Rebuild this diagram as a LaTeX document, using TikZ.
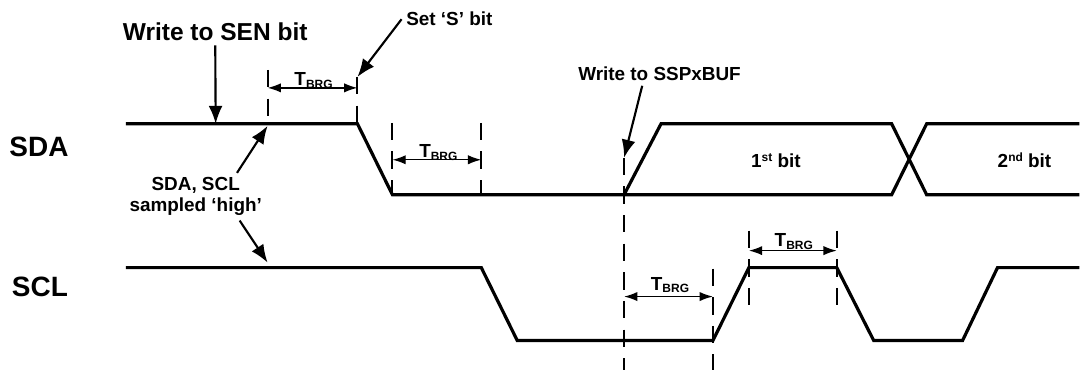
\documentclass[tikz,border=0pt]{standalone}
\usepackage{fontspec}
\setmainfont{Liberation Sans}
\usepackage{tikz}
\usetikzlibrary{arrows.meta}

\newcommand{\tbrg}{T\raisebox{-1.8pt}{\fontsize{9}{10}\selectfont BRG}}
\newcommand{\ordsup}[1]{\raisebox{5pt}{\fontsize{9}{10}\selectfont #1}}

\begin{document}
\begin{tikzpicture}[
    x=0.75pt, y=-0.75pt,
    wave/.style={line width=2.4pt, line join=miter},
    guide/.style={line width=1.5pt, dash pattern=on 13pt off 8.5pt},
    note/.style={font=\bfseries\fontsize{14.2}{15.8}\selectfont, align=center},
    title/.style={font=\bfseries\fontsize{18.4}{20}\selectfont, anchor=base},
    signame/.style={font=\bfseries\fontsize{21}{24}\selectfont, anchor=base},
    pointer/.style={-{Latex[length=13.5pt, width=10.5pt]}, line width=1.6pt},
    tbrgarrow/.style={{Latex[length=10pt, width=7pt]}-{Latex[length=10pt, width=7pt]}, line width=1.1pt},
    tlabel/.style={font=\bfseries\fontsize{14.2}{16}\selectfont, anchor=base, inner sep=0pt}
]
\fill[white] (0,0) rectangle (1081,371);

\node[signame] (sda) at (39,157) {SDA};
\node[signame] (scl) at (40,297) {SCL};

% SDA
\draw[wave] (126,124) -- (358,124) -- (393,195) -- (893,195) -- (928,124) -- (1081,124);
\draw[wave] (625,195) -- (662,124) -- (893,124) -- (928,195) -- (1081,195);
\node[note, anchor=base] (bit1) at (777,168) {1\ordsup{st} bit};
\node[note, anchor=base] (bit2) at (1026,168) {2\ordsup{nd} bit};

% SCL
\draw[wave] (126,268) -- (482,268) -- (518,341) -- (714,341) -- (750,268) -- (838,268)
    -- (875,341) -- (964,341) -- (999,268) -- (1081,268);

\draw[guide] (268,70) -- (268,124);
\draw[guide] (358,77) -- (358,124);
\draw[guide] (393,123) -- (393,195);
\draw[guide] (482,123) -- (482,195);
\draw[guide] (625,158) -- (625,371);
\draw[guide] (714,269) -- (714,371);
\draw[guide] (750,231) -- (750,307);
\draw[guide] (838,231) -- (838,307);

\draw[tbrgarrow] (268,88) -- (358,88);
\draw[tbrgarrow] (393,160) -- (482,160);
\draw[tbrgarrow] (625,297) -- (714,297);
\draw[tbrgarrow] (750,251) -- (838,251);
\node[tlabel] (tbrga) at (314,86) {\tbrg};
\node[tlabel] (tbrgb) at (439,158) {\tbrg};
\node[tlabel] (tbrgc) at (671,291) {\tbrg};
\node[tlabel] (tbrgd) at (795,247) {\tbrg};

\coordinate (senpt) at (216,124);
\coordinate (sbitpt) at (358,77);
\coordinate (sdapt) at (268,126);
\coordinate (sclpt) at (268,263);
\coordinate (bufpt) at (625,158);

\node[title] (sen) at (215.5,40.5) {Write to SEN bit};
\node[note, anchor=base] (sbit) at (450,26) {Set `S' bit};
\node[note, anchor=base] (buf) at (660.5,81) {Write to SSPxBUF};
\node[note] (samp) at (196,197) {SDA, SCL\\sampled `high'};

\draw[pointer] (sen) -- (senpt);
\draw[pointer] (sbit.west) -- (sbitpt);
\draw[pointer] ([xshift=-13pt]buf.south) -- (bufpt);
\draw[pointer] ([xshift=31pt]samp.north) -- (sdapt);
\draw[pointer] ([xshift=33pt]samp.south) -- (sclpt);
\end{tikzpicture}
\end{document}
